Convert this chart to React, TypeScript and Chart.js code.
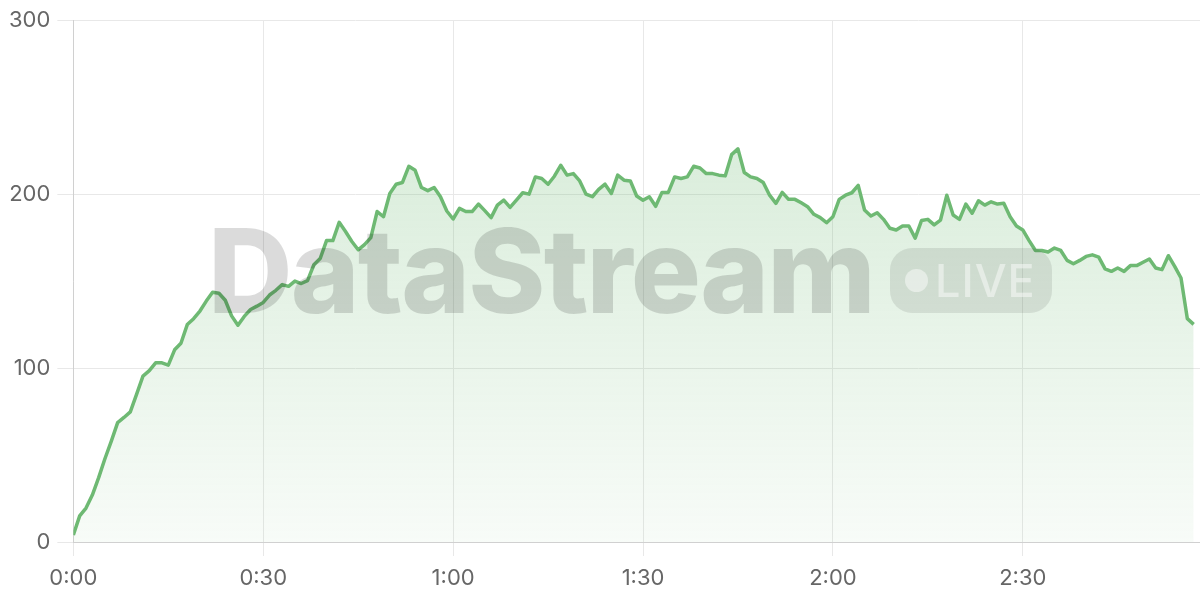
import React, { useEffect, useRef } from "react";
import { Chart, registerables } from "chart.js";

Chart.register(...registerables);

// Values sampled once per second (0:00 .. 2:57)
const values: number[] = [
  4, 15, 19.5, 27, 37, 48, 58, 68.6, 71.6, 74.8,
  85, 95.4, 98.5, 103, 103, 101.7, 110.5, 114.3, 125, 128.4,
  132.8, 138.5, 143.6, 143, 139, 130, 124.6, 129.7, 133.7, 135.6,
  137.7, 142, 144.7, 148, 147, 150, 148.6, 150.3, 159.4, 163,
  173.3, 173.3, 183.8, 178.5, 172.8, 168, 171, 175, 190, 187,
  200.4, 205.7, 206.7, 216, 213.7, 203.8, 202, 203.8, 198.5, 190.3,
  185.7, 191.8, 190, 190, 194.3, 190.5, 186.5, 193.7, 196.6, 192.4,
  196.6, 200.8, 200, 209.9, 209, 205.7, 210.3, 216.6, 210.9, 211.8,
  207.6, 200, 198.5, 202.7, 205.7, 200.4, 210.9, 208, 207.6, 198.9,
  196.5, 198.5, 193, 201, 201, 209.9, 209, 209.9, 216, 215,
  211.8, 211.8, 210.9, 210.5, 222.7, 226, 212.4, 209.9, 209, 206.7,
  199.4, 194.7, 201, 197, 197, 195, 192.8, 188.4, 186.5, 183.6,
  187, 197, 199.4, 200.8, 205, 190.9, 187.4, 189.3, 185.5, 180.4,
  179.4, 181.7, 181.7, 174.7, 184.8, 185.5, 182.3, 185.1, 199.4, 188,
  185.5, 194.3, 189, 196.2, 193.7, 195.6, 194.3, 194.7, 187, 181.7,
  179.4, 173.3, 167.6, 167.6, 166.7, 169, 167.6, 161.9, 160, 161.9,
  164.2, 165.1, 163.8, 157, 155.6, 157.5, 155.6, 158.9, 158.9, 160.8,
  162.7, 157.5, 156.6, 164.6, 158.5, 151.8, 128.4, 125.1,
];

// elapsed seconds for each sample
const seconds: number[] = values.map((_, i) => i);

const xMin = 0;
const xMax = 178;
const xStep = 30;
const yMin = 0;
const yMax = 300;
const yStep = 100;

const watermarkTitle = "DataStream";
const watermarkBadge = "LIVE";

const fmtTime = (v: number) => {
  const m = Math.floor(v / 60);
  const s = Math.round(v % 60);
  return `${m}:${String(s).padStart(2, "0")}`;
};

export default function App() {
  const ref = useRef<HTMLCanvasElement>(null);

  useEffect(() => {
    document.body.style.margin = "0";
    const canvas = ref.current!;
    const chart = new Chart(canvas, {
      type: "line",
      data: {
        datasets: [
          {
            data: seconds.map((s, i) => ({ x: s, y: values[i] })),
            borderColor: "rgb(110,185,115)",
            borderWidth: 3.5,
            borderJoinStyle: "round",
            pointRadius: 0,
            tension: 0,
            fill: "origin",
            backgroundColor: (c: any) => {
              const area = c.chart.chartArea;
              if (!area) return "rgba(110,185,115,0.15)";
              const g = c.chart.ctx.createLinearGradient(0, area.top, 0, area.bottom);
              g.addColorStop(0, "rgba(110,185,115,0.32)");
              g.addColorStop(1, "rgba(110,185,115,0.05)");
              return g;
            },
          },
        ],
      },
      options: {
        responsive: false,
        animation: false,
        layout: { padding: { top: 6, bottom: 0, left: 2, right: 0 } },
        plugins: { legend: { display: false }, tooltip: { enabled: false } },
        scales: {
          x: {
            type: "linear",
            min: xMin,
            max: xMax,
            ticks: {
              stepSize: xStep,
              includeBounds: false,
              callback: (v: any) => fmtTime(Number(v)),
              font: { family: "Inter", size: 22, lineHeight: 1 },
              color: "#666",
              padding: 11,
              maxRotation: 0,
            },
            grid: { color: "#e8e8e8", lineWidth: 1, tickLength: 14 },
            border: { color: "#d0d0d0", width: 1 },
          },
          y: {
            min: yMin,
            max: yMax,
            ticks: {
              stepSize: yStep,
              font: { family: "Inter", size: 22 },
              color: "#666",
              padding: 7,
            },
            grid: { color: "#e8e8e8", lineWidth: 1, tickLength: 16 },
            border: { color: "#d0d0d0", width: 1 },
          },
        },
      },
    });
    return () => chart.destroy();
  }, []);

  return (
    <div style={{ position: "fixed", left: 0, top: 0, width: 1200, height: 600, background: "#fff" }}>
      <canvas ref={ref} width={1200} height={600} style={{ position: "absolute", left: 0, top: 0 }} />
      <div
        style={{
          position: "absolute",
          left: 208,
          top: 212,
          fontFamily: "Inter",
          fontWeight: 800,
          fontSize: 117,
          lineHeight: 1,
          letterSpacing: "-1.8px",
          color: "rgba(0,0,0,0.14)",
          pointerEvents: "none",
          whiteSpace: "nowrap",
        }}
      >
        {watermarkTitle}
      </div>
      <div
        style={{
          position: "absolute",
          left: 890,
          top: 248,
          width: 162,
          height: 65,
          borderRadius: 22,
          background: "rgba(0,0,0,0.09)",
          display: "flex",
          alignItems: "center",
          pointerEvents: "none",
        }}
      >
        <div
          style={{
            marginLeft: 15,
            width: 23,
            height: 23,
            borderRadius: "50%",
            background: "rgba(255,255,255,0.45)",
          }}
        />
        <div
          style={{
            marginLeft: 7,
            fontFamily: "Inter",
            fontWeight: 500,
            fontSize: 45,
            lineHeight: 1,
            letterSpacing: "1px",
            color: "rgba(255,255,255,0.45)",
          }}
        >
          {watermarkBadge}
        </div>
      </div>
    </div>
  );
}
